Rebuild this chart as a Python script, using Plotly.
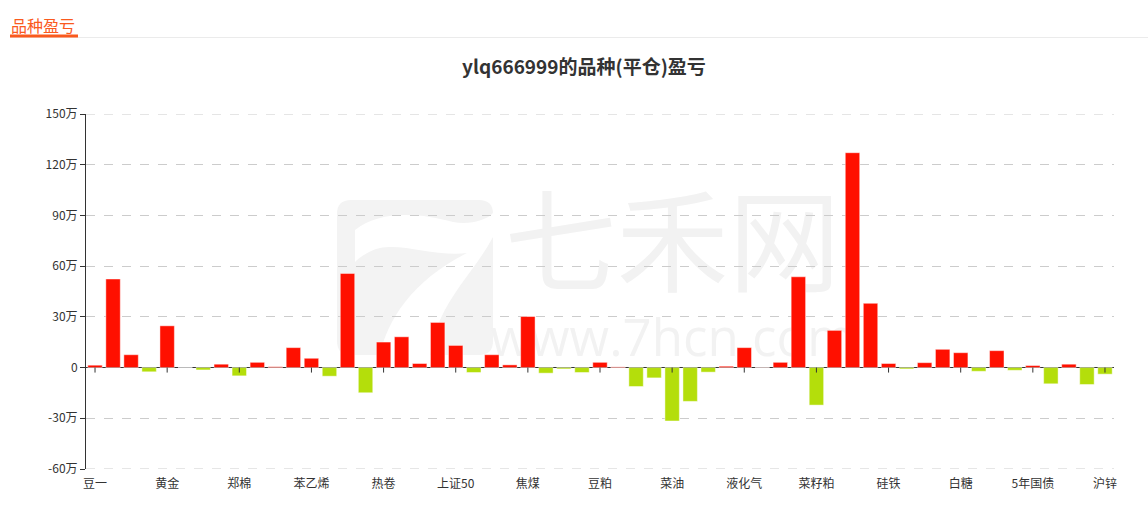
import plotly.graph_objects as go

# 品种 (every category in display order)
categories = [
    "豆一", "豆二", "豆油", "棕榈油", "黄金", "白银", "沪铜", "沪铝",
    "郑棉", "棉纱", "玉米", "淀粉", "苯乙烯", "乙二醇", "PTA", "甲醇",
    "热卷", "螺纹钢", "线材", "铁矿石", "上证50", "沪深300", "中证500", "焦炭",
    "焦煤", "动力煤", "玻璃", "纯碱", "豆粕", "鸡蛋", "生猪", "苹果",
    "菜油", "菜籽", "红枣", "原油", "液化气", "燃料油", "沥青", "橡胶",
    "菜籽粕", "纸浆", "尿素", "锰硅", "硅铁", "不锈钢", "沪镍", "沪锡",
    "白糖", "花生", "10年国债", "2年国债", "5年国债", "聚丙烯", "塑料", "PVC",
    "沪锌",
]

# 平仓盈亏, in 万元
pnl_wan = [
    1.4, 52.4, 7.6, -2.5, 24.7, 0.0, -1.4, 2.0,
    -4.9, 3.1, 0.5, 11.8, 5.5, -5.1, 55.7, -14.9,
    15.1, 18.2, 2.4, 26.7, 13.1, -2.9, 7.6, 1.6,
    30.2, -3.3, -0.8, -2.9, 3.1, 0.4, -11.2, -6.1,
    -31.6, -20.0, -2.7, 0.8, 11.8, 0.1, 3.1, 53.7,
    -22.2, 22.0, 127.1, 38.0, 2.4, -0.8, 2.9, 10.8,
    8.8, -2.2, 10.0, -1.6, 1.2, -9.6, 2.0, -10.0,
    -3.9,
]

# y axis ticks (万)
y_ticks = [-60, -30, 0, 30, 60, 90, 120, 150]
y_tick_text = ["-60万", "-30万", "0", "30万", "60万", "90万", "120万", "150万"]

# only every 4th category gets a visible label
label_step = 4
x_tick_vals = categories[::label_step]

RED = "#ff1000"
GREEN = "#b4de0b"
FONT = "Noto Sans CJK SC"
GRID = "#cccccc"

W, H = 1148, 513
PL, PR, PT, PB = 86, 1114, 114, 469


def px(x):
    return (x - PL) / (PR - PL)


def py(y):
    return (PB - y) / (PB - PT)


def pt(x, y):
    return f"{px(x):.5f},{py(y):.5f}"


fig = go.Figure()
fig.add_trace(go.Bar(
    x=categories,
    y=pnl_wan,
    marker=dict(
        color=[RED if v >= 0 else GREEN for v in pnl_wan],
        line=dict(color="rgba(255,255,255,0.45)", width=1),
    ),
    hovertemplate="%{x}: %{y}万<extra></extra>",
))

shapes = []

# watermark logo: rounded square with a white "7" swoosh
x0, x1, y0, y1, r = 337, 493, 200, 355, 14
logo = (
    f"M {pt(x0 + r, y0)} L {pt(x1 - r, y0)} Q {pt(x1, y0)} {pt(x1, y0 + r)} "
    f"L {pt(x1, y1 - r)} Q {pt(x1, y1)} {pt(x1 - r, y1)} "
    f"L {pt(x0 + r, y1)} Q {pt(x0, y1)} {pt(x0, y1 - r)} "
    f"L {pt(x0, y0 + r)} Q {pt(x0, y0)} {pt(x0 + r, y0)} Z"
)
shapes.append(dict(type="path", xref="paper", yref="paper", path=logo,
                   fillcolor="#f3f3f3", line=dict(width=0), layer="below"))
swoosh = (
    f"M {pt(355, 230)} "
    f"C {pt(380, 210)} {pt(420, 213)} {pt(453, 222)} "
    f"C {pt(470, 225)} {pt(487, 220)} {pt(493, 213)} "
    f"L {pt(493, 237)} "
    f"C {pt(477, 267)} {pt(453, 290)} {pt(440, 320)} "
    f"C {pt(435, 333)} {pt(432, 347)} {pt(430, 355)} "
    f"L {pt(380, 355)} "
    f"C {pt(387, 320)} {pt(413, 280)} {pt(467, 253)} "
    f"C {pt(437, 257)} {pt(403, 243)} {pt(380, 248)} "
    f"C {pt(370, 250)} {pt(360, 257)} {pt(355, 262)} Z"
)
shapes.append(dict(type="path", xref="paper", yref="paper", path=swoosh,
                   fillcolor="#ffffff", line=dict(width=0), layer="below"))

# watermark text
shapes.append(dict(
    type="rect", xref="paper", yref="paper",
    x0=px(500), x1=px(845), y0=py(305), y1=py(200),
    line=dict(width=0), fillcolor="rgba(0,0,0,0)", layer="below",
    label=dict(text="七禾网", textposition="middle center",
               font=dict(family=FONT, size=112, color="#f2f2f2")),
))
shapes.append(dict(
    type="rect", xref="paper", yref="paper",
    x0=px(500), x1=px(845), y0=py(362), y1=py(318),
    line=dict(width=0), fillcolor="rgba(0,0,0,0)", layer="below",
    label=dict(text="www.7hcn.com", textposition="middle center",
               font=dict(family="Open Sans", size=51, color="#f2f2f2")),
))

# header rule and accent underline
shapes.append(dict(type="line", xref="paper", yref="paper",
                   x0=px(10), x1=px(1148), y0=py(37.5), y1=py(37.5),
                   line=dict(color="#ebebeb", width=1)))
shapes.append(dict(type="line", xref="paper", yref="paper",
                   x0=px(10), x1=px(78), y0=py(36), y1=py(36),
                   line=dict(color="#fa5a1e", width=3)))

# dashed grid lines at both ends of the value range
for v in (y_ticks[0], y_ticks[-1]):
    shapes.append(dict(type="line", xref="paper", yref="y",
                       x0=0, x1=1, y0=v, y1=v,
                       line=dict(color=GRID, width=1, dash="dash")))

# category tick marks hanging from the zero line
for c in x_tick_vals:
    shapes.append(dict(type="line", xref="x", yref="y", ysizemode="pixel",
                       yanchor=0, x0=c, x1=c, y0=0, y1=-5,
                       line=dict(color="#333333", width=1)))

fig.update_layout(
    width=W, height=H,
    margin=dict(l=PL, r=W - PR, t=PT, b=H - PB, pad=0),
    paper_bgcolor="white",
    plot_bgcolor="white",
    showlegend=False,
    bargap=0.2,
    font=dict(family=FONT, size=12, color="#333333"),
    title=dict(
        text="<b>ylq666999的品种(平仓)盈亏</b>",
        x=584 / W, xref="container", xanchor="center",
        y=1 - 67 / H, yref="container", yanchor="middle",
        font=dict(family=FONT, size=19, color="#333333"),
    ),
    annotations=[dict(
        text="品种盈亏", xref="paper", yref="paper",
        x=px(9), y=py(25), xanchor="left", yanchor="middle",
        showarrow=False, font=dict(family=FONT, size=16, color="#fa5a1e"),
    )],
    shapes=shapes,
    xaxis=dict(
        type="category",
        range=[-0.5, len(categories) - 0.5],
        tickmode="array",
        tickvals=x_tick_vals,
        ticktext=x_tick_vals,
        ticks="outside", ticklen=4, tickcolor="rgba(0,0,0,0)",
        showgrid=False, showline=False, zeroline=False,
        tickfont=dict(family=FONT, size=12, color="#333333"),
        tickangle=0,
    ),
    yaxis=dict(
        range=[-60, 150],
        tickmode="array",
        tickvals=y_ticks,
        ticktext=y_tick_text,
        ticks="outside", ticklen=5, tickcolor="#333333",
        showline=True, linecolor="#333333", linewidth=1,
        showgrid=True, gridcolor=GRID, griddash="dash", gridwidth=1,
        zeroline=True, zerolinecolor="#333333", zerolinewidth=1,
        tickfont=dict(family=FONT, size=12, color="#333333"),
    ),
)

fig.write_html("out.html")
